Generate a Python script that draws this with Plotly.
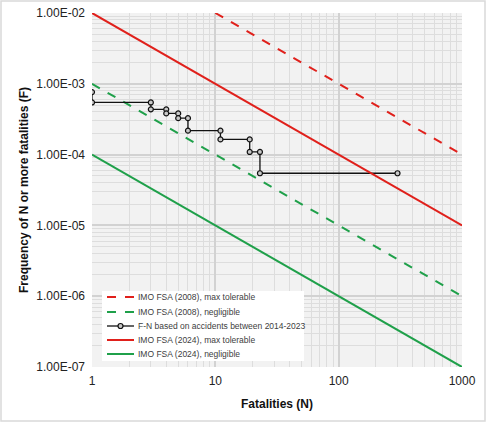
import plotly.graph_objects as go

# F-N curve (step points)
fn_n = [1, 1, 3, 3, 4, 4, 5, 5, 6, 6, 11, 11, 19, 19, 23, 23, 300]
fn_f = [7.63e-4, 5.45e-4, 5.45e-4, 4.36e-4, 4.36e-4, 3.82e-4, 3.82e-4,
        3.27e-4, 3.27e-4, 2.18e-4, 2.18e-4, 1.64e-4, 1.64e-4, 1.09e-4,
        1.09e-4, 5.45e-5, 5.45e-5]

# criteria lines
imo2008_max_n = [10, 1000]
imo2008_max_f = [1e-2, 1e-4]
imo2008_neg_n = [1, 1000]
imo2008_neg_f = [1e-3, 1e-6]
imo2024_max_n = [1, 1000]
imo2024_max_f = [1e-2, 1e-5]
imo2024_neg_n = [1, 1000]
imo2024_neg_f = [1e-4, 1e-7]

x_ticks = [1, 10, 100, 1000]
x_ticktext = ["1", "10", "100", "1000"]
y_ticks = [1e-7, 1e-6, 1e-5, 1e-4, 1e-3, 1e-2]
y_ticktext = ["1.00E-07", "1.00E-06", "1.00E-05", "1.00E-04", "1.00E-03", "1.00E-02"]

RED = "#e0201b"
GREEN = "#1fa04a"
FONT = "Liberation Sans, Arial, sans-serif"

series = [
    dict(name="IMO FSA (2008), max tolerable", x=imo2008_max_n, y=imo2008_max_f,
         color=RED, dash="dash", marker=False),
    dict(name="IMO FSA (2008), negligible", x=imo2008_neg_n, y=imo2008_neg_f,
         color=GREEN, dash="dash", marker=False),
    dict(name="F-N based on accidents between 2014-2023", x=fn_n, y=fn_f,
         color="#111111", dash="solid", marker=True),
    dict(name="IMO FSA (2024), max tolerable", x=imo2024_max_n, y=imo2024_max_f,
         color=RED, dash="solid", marker=False),
    dict(name="IMO FSA (2024), negligible", x=imo2024_neg_n, y=imo2024_neg_f,
         color=GREEN, dash="solid", marker=False),
]

# plot area in pixels (for placing the hand-drawn legend)
L, R, T, B = 92, 462, 13, 367


def px(x):
    return (x - L) / (R - L)


def py(y):
    return (B - y) / (B - T)


fig = go.Figure()
for s in series:
    if s["marker"]:
        fig.add_trace(go.Scatter(x=s["x"], y=s["y"], mode="lines+markers", name=s["name"],
                                 line=dict(color=s["color"], width=1.3),
                                 marker=dict(symbol="circle", size=5, color="#c8c8c8",
                                             line=dict(color="#111111", width=1.2))))
    else:
        fig.add_trace(go.Scatter(x=s["x"], y=s["y"], mode="lines", name=s["name"],
                                 line=dict(color=s["color"], width=2, dash=s["dash"])))

minor_x = [m * 10 ** d for d in range(3) for m in range(2, 10)]
minor_y = [m * 10.0 ** d for d in range(-7, -2) for m in range(2, 10)]

fig.update_xaxes(type="log", range=[0, 3], tickvals=x_ticks, ticktext=x_ticktext,
                 showgrid=True, gridcolor="#d2d2d2", gridwidth=1.5,
                 minor=dict(tickmode="array", tickvals=minor_x, showgrid=True,
                            gridcolor="#dddddd", gridwidth=1),
                 zeroline=False, showline=False, ticks="", automargin=False,
                 ticklabelstandoff=5,
                 tickfont=dict(size=12, color="#222222"),
                 title=dict(text="<b>Fatalities (N)</b>", font=dict(size=12, color="#111111"),
                            standoff=12))
fig.update_yaxes(type="log", range=[-7, -2], tickvals=y_ticks, ticktext=y_ticktext,
                 showgrid=True, gridcolor="#d2d2d2", gridwidth=1.5,
                 minor=dict(tickmode="array", tickvals=minor_y, showgrid=True,
                            gridcolor="#dddddd", gridwidth=1),
                 zeroline=False, showline=False, ticks="", automargin=False,
                 ticklabelstandoff=6,
                 tickfont=dict(size=12, color="#222222"),
                 title=dict(text="<b>Frequency of N or more fatalities (F)</b>",
                            font=dict(size=12, color="#111111"), standoff=5))

# thin border around the whole chart
fig.add_shape(type="rect", xref="paper", yref="paper",
              x0=px(1), x1=px(485), y0=py(421), y1=py(1),
              line=dict(color="#d9d9d9", width=1.5), layer="below")

# legend box drawn by hand so rows can sit as tight as in the original
fig.add_shape(type="rect", xref="paper", yref="paper",
              x0=px(102), x1=px(304), y0=py(361), y1=py(291),
              line=dict(width=0), fillcolor="white", layer="above")
row_y = [297, 312, 326, 340, 354]
for s, ry in zip(series, row_y):
    fig.add_shape(type="line", xref="paper", yref="paper",
                  x0=px(107), x1=px(134), y0=py(ry), y1=py(ry),
                  line=dict(color=s["color"], width=2 if not s["marker"] else 1.3,
                            dash=s["dash"]), layer="above")
    if s["marker"]:
        fig.add_shape(type="circle", xref="paper", yref="paper",
                      xsizemode="pixel", ysizemode="pixel",
                      xanchor=px(120.5), yanchor=py(ry), x0=-2.5, x1=2.5, y0=-2.5, y1=2.5,
                      line=dict(color="#111111", width=1.2), fillcolor="#c8c8c8",
                      layer="above")
    fig.add_annotation(x=px(136), y=py(ry), xref="paper", yref="paper",
                       text=s["name"], showarrow=False, xanchor="left", yanchor="middle",
                       font=dict(size=8.5, color="#404040"))

fig.update_layout(
    width=486, height=423,
    margin=dict(l=L, r=486 - R, t=T, b=423 - B),
    plot_bgcolor="#f2f2f2", paper_bgcolor="white",
    font=dict(family=FONT, size=12, color="#222222"),
    showlegend=False,
)

fig.write_html("out.html", config={"displayModeBar": False},
               post_script="document.body.style.margin='0';")
